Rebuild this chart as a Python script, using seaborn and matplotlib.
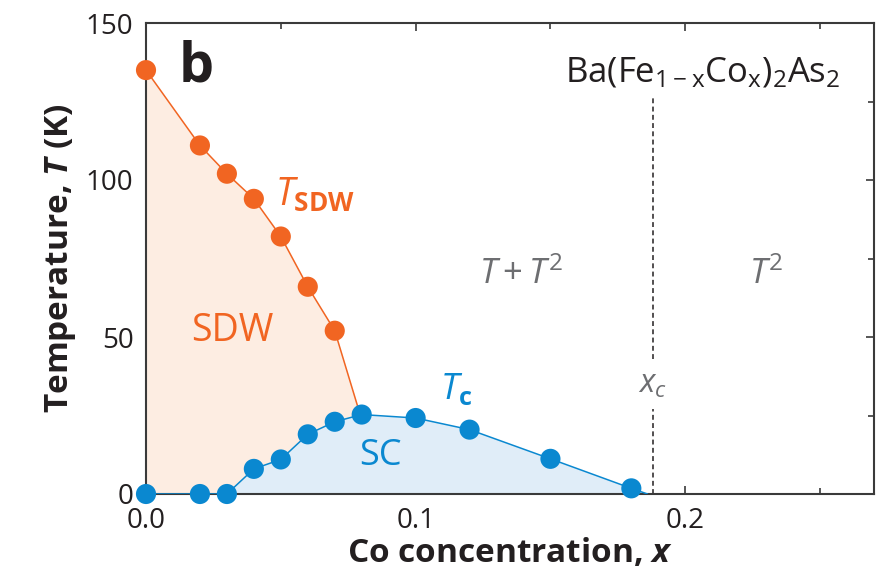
import matplotlib
matplotlib.use("Agg")
import matplotlib.pyplot as plt
import seaborn as sns
import pandas as pd
from matplotlib.ticker import MultipleLocator

# Spin-density-wave transition temperatures
x_sdw = [0.0, 0.02, 0.03, 0.04, 0.05, 0.06, 0.07]
t_sdw = [135, 111, 102, 94, 82, 66, 52]
# where the SDW boundary meets the superconducting dome
sdw_end_x, sdw_end_t = 0.079, 26.5

# Superconducting transition temperatures
x_tc = [0.0, 0.02, 0.03, 0.04, 0.05, 0.06, 0.07, 0.08, 0.10, 0.12, 0.15, 0.18]
t_tc = [0, 0, 0, 8, 11, 19, 23, 25.3, 24.2, 20.5, 11.2, 1.8]
tc_end_x, tc_end_t = 0.186, 0.0

# critical concentration
x_c = 0.188

x_ticks = [0.0, 0.1, 0.2]
x_tick_labels = ["0.0", "0.1", "0.2"]
y_ticks = [0, 50, 100, 150]

ORANGE = "#F16522"
ORANGE_FILL = "#FDEDE2"
BLUE = "#0A88D0"
BLUE_FILL = "#E0EDF8"
GRAY = "#6D6E71"
INK = "#231F20"

sns.set_style("ticks")
plt.rcParams["font.family"] = ["Open Sans", "DejaVu Sans"]
plt.rcParams["mathtext.fontset"] = "custom"
plt.rcParams["mathtext.rm"] = "Open Sans"
plt.rcParams["mathtext.it"] = "Open Sans:italic"
plt.rcParams["mathtext.bf"] = "Open Sans:bold"
plt.rcParams["mathtext.bfit"] = "Open Sans:italic:bold"

fig = plt.figure(figsize=(8.76, 5.83), dpi=100)
ax = fig.add_axes([146 / 876, 1 - 494 / 583, (874 - 146) / 876, (494 - 23) / 583])

sdw_line = pd.DataFrame({"x": x_sdw + [sdw_end_x], "T": t_sdw + [sdw_end_t]})
tc_line = pd.DataFrame({"x": x_tc + [tc_end_x], "T": t_tc + [tc_end_t]})
sdw_pts = pd.DataFrame({"x": x_sdw, "T": t_sdw})
tc_pts = pd.DataFrame({"x": x_tc, "T": t_tc})

# shaded phases
ax.fill_between(sdw_line["x"], 0, sdw_line["T"], color=ORANGE_FILL, lw=0, zorder=1)
ax.fill_between(tc_line["x"], 0, tc_line["T"], color=BLUE_FILL, lw=0, zorder=1.5)

sns.lineplot(data=sdw_line, x="x", y="T", sort=False, color=ORANGE, lw=1.1, ax=ax, zorder=3)
sns.lineplot(data=tc_line, x="x", y="T", sort=False, color=BLUE, lw=1.1, ax=ax, zorder=3)
sns.scatterplot(data=sdw_pts, x="x", y="T", color=ORANGE, s=210, edgecolor="none",
                ax=ax, zorder=4, clip_on=False)
sns.scatterplot(data=tc_pts, x="x", y="T", color=BLUE, s=210, edgecolor="none",
                ax=ax, zorder=4, clip_on=False)

# dashed line at x_c, broken around its label
dash = dict(color=INK, lw=1.1, linestyle=(0, (3.2, 2.2)), zorder=2)
ax.plot([x_c, x_c], [0, 27], **dash)
ax.plot([x_c, x_c], [43, 126], **dash)

ax.set_xlim(0, 0.27)
ax.set_ylim(0, 150)
ax.set_xticks(x_ticks)
ax.set_xticklabels(x_tick_labels)
ax.set_yticks(y_ticks)
ax.xaxis.set_minor_locator(MultipleLocator(0.05))
ax.yaxis.set_minor_locator(MultipleLocator(25))

for s in ax.spines.values():
    s.set_visible(True)
    s.set_linewidth(1.5)
    s.set_color("#3a3a3a")
ax.tick_params(which="both", direction="in", top=True, right=True, width=1.2,
               color="#3a3a3a", labelsize=20, labelcolor=INK)
ax.tick_params(which="major", length=6)
ax.tick_params(which="minor", length=4)
ax.tick_params(axis="x", pad=9)
ax.tick_params(axis="y", pad=9)

ax.set_xlabel(r"Co concentration, $\mathbfit{x}$", fontsize=24, fontweight="bold",
              color=INK, labelpad=2)
ax.set_ylabel(r"Temperature, $\mathbfit{T}$ (K)", fontsize=24, fontweight="bold",
              color=INK, labelpad=6)

ax.text(0.012, 136, "b", fontsize=40, fontweight="bold", color=INK, va="center", ha="left")
ax.text(0.2577, 134, r"Ba(Fe$_{\mathrm{1-x}}$Co$_{\mathrm{x}}$)$_2$As$_2$", fontsize=25,
        color=INK, ha="right", va="center")
ax.text(0.048, 95, r"$T_{\mathbf{SDW}}$", fontsize=27, color=ORANGE, ha="left", va="center")
ax.text(0.032, 52, "SDW", fontsize=27, color=ORANGE, ha="center", va="center")
ax.text(0.087, 12, "SC", fontsize=26, color=BLUE, ha="center", va="center")
ax.text(0.115, 33, r"$T_{\mathbf{c}}$", fontsize=26, color=BLUE, ha="center", va="center")
ax.text(0.139, 70, r"$T+T^2$", fontsize=25, color=GRAY, ha="center", va="center")
ax.text(0.230, 70, r"$T^2$", fontsize=25, color=GRAY, ha="center", va="center")
ax.text(x_c, 35, r"$x_c$", fontsize=23, color=GRAY, ha="center", va="center")

fig.savefig("out.png", dpi=100)
